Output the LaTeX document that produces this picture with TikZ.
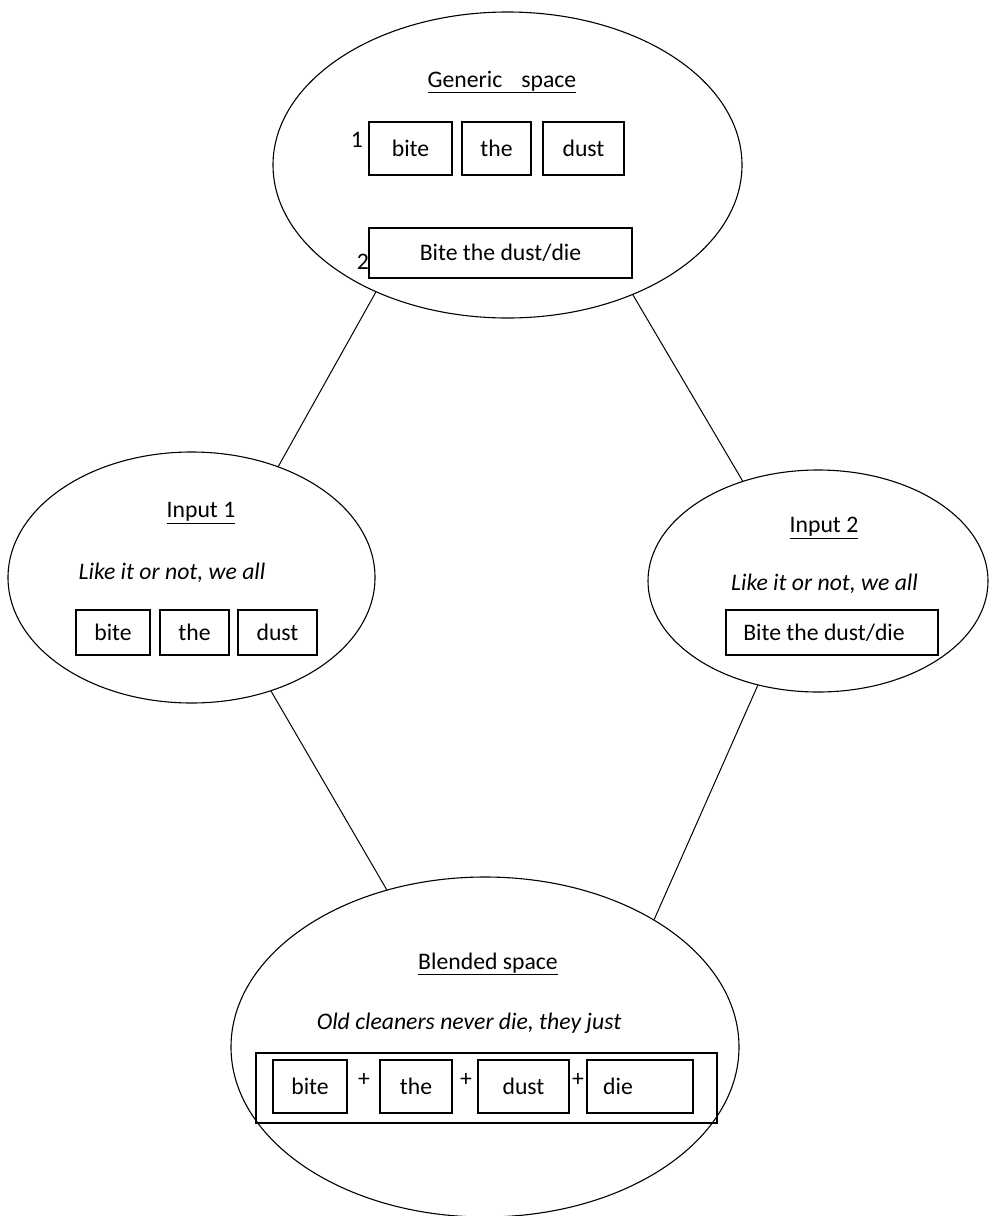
\documentclass[tikz,border=0pt]{standalone}
\usepackage{fontspec}
\setmainfont{Carlito}
\usetikzlibrary{shapes.geometric,positioning}
\tikzset{
  space/.style={draw,ellipse,inner sep=0pt,line width=1.1pt},
  wordbox/.style={draw,rectangle,line width=1.1pt,inner sep=0pt},
  link/.style={line width=1pt},
  every node/.append style={font=\fontsize{23.7}{28}\selectfont}
}
\begin{document}
\begin{tikzpicture}[x=1pt,y=-1pt]
  \useasboundingbox (0,0) rectangle (989,1216);
  \clip (0,0) rectangle (989,1216);
  % the four spaces
  \node[space,minimum width=469pt,minimum height=306pt] (generic) at (507.5,165) {};
  \node[space,minimum width=367pt,minimum height=251pt] (input1) at (191.5,577.5) {};
  \node[space,minimum width=340pt,minimum height=222pt] (input2) at (818,581) {};
  \node[space,minimum width=508pt,minimum height=340pt] (blend) at (485,1047) {};
  % generic space
  \node (gtitle) at (502,82) {\underline{Generic\hspace{0.8em}space}};
  \node (gnum1) at (357,140) {1};
  \node (gnum2) at (363,262) {2};
  \node[wordbox,minimum width=83pt,minimum height=53pt] (gbite) at (410.5,148.5) {bite};
  \node[wordbox,minimum width=69pt,minimum height=53pt] (gthe) at (496.5,148.5) {the};
  \node[wordbox,minimum width=81pt,minimum height=53pt] (gdust) at (583.5,148.5) {dust};
  \node[wordbox,minimum width=263pt,minimum height=50pt] (gidiom) at (500.5,253) {Bite the dust/die};
  % input 1
  \node (atitle) at (201,513) {\underline{Input 1}};
  \node (aline) at (172,573) {\itshape Like it or not, we all};
  \node[wordbox,minimum width=74pt,minimum height=45pt] (abite) at (113,632.5) {bite};
  \node[wordbox,minimum width=69pt,minimum height=45pt] (athe) at (194.5,632.5) {the};
  \node[wordbox,minimum width=79pt,minimum height=45pt] (adust) at (277.5,632.5) {dust};
  % input 2
  \node (btitle) at (824,528) {\underline{Input 2}};
  \node (bline) at (824.5,584) {\itshape Like it or not, we all};
  \node[wordbox,minimum width=212pt,minimum height=45pt] (bidiom) at (832,632.5) {Bite the dust/die\hspace*{16pt}};
  % blended space
  \node (ctitle) at (488,964) {\underline{Blended space}};
  \node (cline) at (469,1023) {\itshape Old cleaners never die, they just};
  \node[wordbox,minimum width=461pt,minimum height=70pt] (crow) at (486.5,1088) {};
  \node[wordbox,minimum width=74pt,minimum height=53pt] (cbite) at (310,1086.5) {bite};
  \node[wordbox,minimum width=72pt,minimum height=53pt] (cthe) at (416,1086.5) {the};
  \node[wordbox,minimum width=91pt,minimum height=53pt] (cdust) at (523.5,1086.5) {dust};
  \node[wordbox,minimum width=106pt,minimum height=53pt] (cdie) at (640,1086.5) {die\hspace*{44pt}};
  \node (cplus1) at (364,1080) {+};
  \node (cplus2) at (466,1080) {+};
  \node (cplus3) at (578,1080) {+};
  % connectors
  \draw[link] (generic.224) -- (input1.52);
  \draw[link] (generic.314) -- (input2.127);
  \draw[link] (input1.305) -- (blend.122);
  \draw[link] (input2.240) -- (blend.37);
\end{tikzpicture}
\end{document}
